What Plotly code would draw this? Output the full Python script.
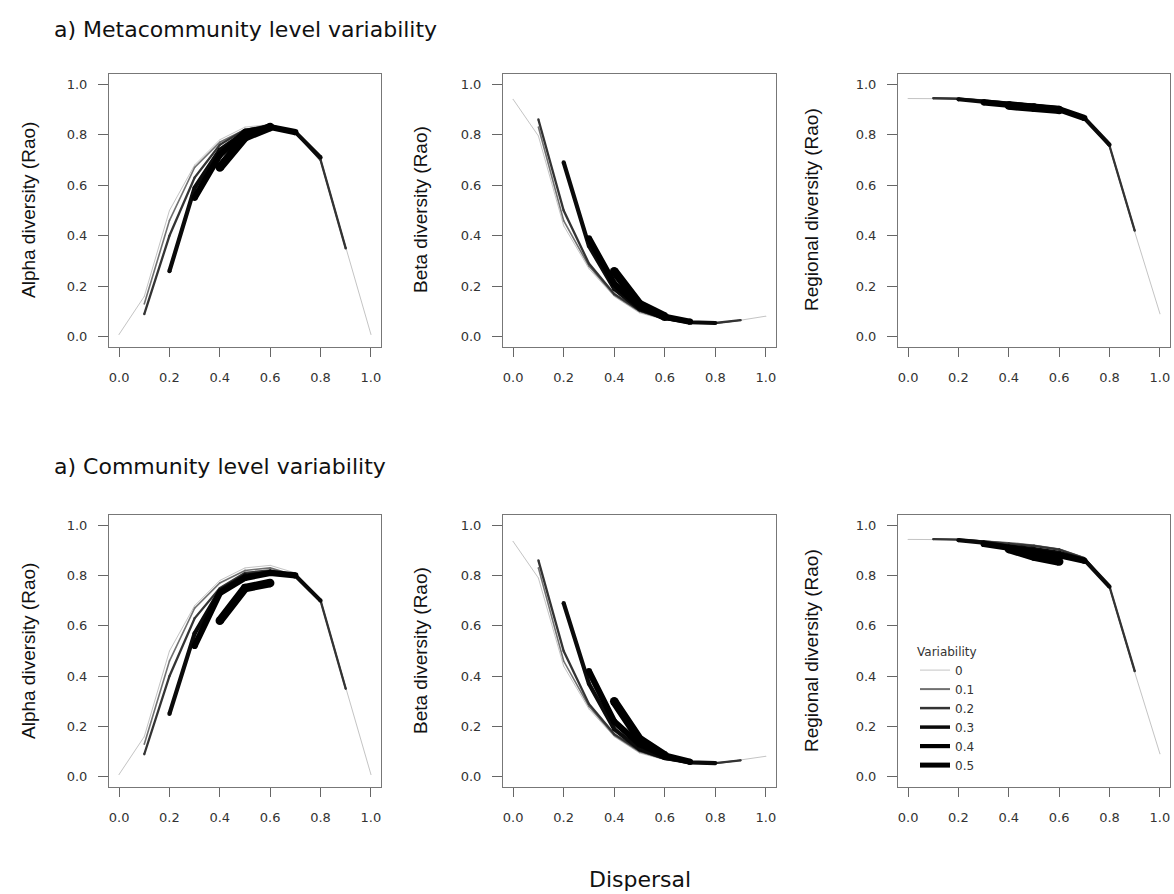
import plotly.graph_objects as go

# ---------------- data ----------------
dispersal = [0.0, 0.1, 0.2, 0.3, 0.4, 0.5, 0.6, 0.7, 0.8, 0.9, 1.0]
variability = ["0", "0.1", "0.2", "0.3", "0.4", "0.5"]
tick_vals = [0.0, 0.2, 0.4, 0.6, 0.8, 1.0]
tick_text = ["0.0", "0.2", "0.4", "0.6", "0.8", "1.0"]
N = None

alpha_meta = [
    [0.01, 0.16, 0.50, 0.68, 0.78, 0.83, 0.84, 0.81, 0.70, 0.35, 0.01],
    [N, 0.13, 0.46, 0.67, 0.77, 0.82, 0.84, 0.81, 0.70, 0.35, N],
    [N, 0.09, 0.40, 0.63, 0.76, 0.82, 0.83, 0.81, 0.70, 0.35, N],
    [N, N, 0.26, 0.59, 0.74, 0.81, 0.83, 0.81, 0.71, N, N],
    [N, N, N, 0.55, 0.72, 0.81, 0.83, 0.81, N, N, N],
    [N, N, N, N, 0.67, 0.79, 0.83, N, N, N, N],
]
beta_meta = [
    [0.94, 0.795, 0.44, 0.27, 0.16, 0.095, 0.068, 0.055, 0.053, 0.066, 0.082],
    [N, 0.83, 0.46, 0.28, 0.165, 0.10, 0.07, 0.056, 0.054, 0.066, N],
    [N, 0.86, 0.50, 0.29, 0.17, 0.105, 0.072, 0.057, 0.055, 0.066, N],
    [N, N, 0.69, 0.36, 0.19, 0.11, 0.075, 0.058, 0.055, N, N],
    [N, N, N, 0.39, 0.21, 0.12, 0.08, 0.06, N, N, N],
    [N, N, N, N, 0.26, 0.13, 0.08, N, N, N, N],
]
regional_meta = [
    [0.943, 0.943, 0.942, 0.937, 0.93, 0.92, 0.905, 0.87, 0.75, 0.415, 0.092],
    [N, 0.945, 0.943, 0.937, 0.93, 0.92, 0.905, 0.87, 0.755, 0.42, N],
    [N, 0.944, 0.942, 0.935, 0.927, 0.917, 0.903, 0.868, 0.755, 0.42, N],
    [N, N, 0.94, 0.93, 0.92, 0.912, 0.90, 0.866, 0.76, N, N],
    [N, N, N, 0.928, 0.917, 0.908, 0.90, 0.866, N, N, N],
    [N, N, N, N, 0.915, 0.907, 0.898, N, N, N, N],
]
alpha_comm = [
    [0.01, 0.16, 0.50, 0.68, 0.78, 0.83, 0.84, 0.81, 0.70, 0.35, 0.01],
    [N, 0.13, 0.46, 0.67, 0.77, 0.82, 0.83, 0.80, 0.70, 0.35, N],
    [N, 0.09, 0.40, 0.63, 0.75, 0.81, 0.82, 0.80, 0.70, 0.35, N],
    [N, N, 0.25, 0.57, 0.74, 0.80, 0.81, 0.80, 0.70, N, N],
    [N, N, N, 0.52, 0.73, 0.79, 0.81, 0.80, N, N, N],
    [N, N, N, N, 0.62, 0.75, 0.77, N, N, N, N],
]
beta_comm = [
    [0.935, 0.79, 0.44, 0.27, 0.16, 0.095, 0.068, 0.055, 0.053, 0.066, 0.082],
    [N, 0.83, 0.46, 0.28, 0.165, 0.10, 0.07, 0.056, 0.054, 0.066, N],
    [N, 0.86, 0.50, 0.29, 0.17, 0.105, 0.072, 0.057, 0.055, 0.066, N],
    [N, N, 0.69, 0.37, 0.19, 0.11, 0.075, 0.058, 0.055, N, N],
    [N, N, N, 0.42, 0.22, 0.13, 0.085, 0.06, N, N, N],
    [N, N, N, N, 0.30, 0.15, 0.085, N, N, N, N],
]
regional_comm = [
    [0.943, 0.943, 0.942, 0.937, 0.93, 0.92, 0.905, 0.87, 0.75, 0.415, 0.092],
    [N, 0.945, 0.943, 0.937, 0.93, 0.92, 0.905, 0.87, 0.755, 0.42, N],
    [N, 0.944, 0.942, 0.935, 0.927, 0.917, 0.903, 0.868, 0.755, 0.42, N],
    [N, N, 0.94, 0.93, 0.915, 0.905, 0.89, 0.862, 0.755, N, N],
    [N, N, N, 0.925, 0.91, 0.895, 0.88, 0.858, N, N, N],
    [N, N, N, N, 0.905, 0.875, 0.855, N, N, N, N],
]

panels = [alpha_meta, beta_meta, regional_meta, alpha_comm, beta_comm, regional_comm]
ylabels = ["Alpha diversity (Rao)", "Beta diversity (Rao)", "Regional diversity (Rao)"]
row_titles = ["a) Metacommunity level variability", "a) Community level variability"]
x_title = "Dispersal"
legend_title = "Variability"

# ---------------- styles ----------------
colors = ["#c4c4c4", "#707070", "#333333", "#0a0a0a", "#000000", "#000000"]
plot_widths = [1.0, 1.6, 2.3, 4.2, 6.2, 8.5]
legend_widths = [1.0, 2.0, 2.5, 3.5, 4.2, 5.0]
FONT_V = "Liberation Sans, Arial, sans-serif"   # rotated labels
FONT_H = "DejaVu Sans, Verdana, sans-serif"     # horizontal (wider) text
W, H = 1174, 894

x_dom = [(109 / W, 381 / W), (503 / W, 776 / W), (898 / W, 1170 / W)]
y_dom = [(1 - 347 / H, 1 - 74 / H), (1 - 787 / H, 1 - 515 / H)]

fig = go.Figure()

for p, data in enumerate(panels):
    ax = p + 1
    xa = "x" if ax == 1 else f"x{ax}"
    ya = "y" if ax == 1 else f"y{ax}"
    for i, ys in enumerate(data):
        fig.add_trace(go.Scatter(
            x=dispersal, y=ys, xaxis=xa, yaxis=ya,
            mode="lines+markers",
            line=dict(color=colors[i], width=plot_widths[i]),
            marker=dict(color=colors[i], size=plot_widths[i], line=dict(width=0)),
            connectgaps=False, showlegend=False, hoverinfo="skip",
        ))

# legend entries
for i, lab in enumerate(variability):
    fig.add_trace(go.Scatter(
        x=[None], y=[None], xaxis="x6", yaxis="y6", mode="lines",
        line=dict(color=colors[i], width=legend_widths[i]),
        name=lab, showlegend=True,
    ))

layout = dict(
    width=W, height=H,
    margin=dict(l=0, r=0, t=0, b=0),
    paper_bgcolor="white", plot_bgcolor="white",
    font=dict(family=FONT_H, color="#222"),
    showlegend=True,
    legend=dict(
        x=915 / W, y=1 - 640 / H, xanchor="left", yanchor="top",
        bgcolor="rgba(0,0,0,0)", borderwidth=0,
        title=dict(text=legend_title, font=dict(size=12, color="#333", family=FONT_H)),
        font=dict(size=12, color="#333", family=FONT_H),
        tracegroupgap=0,
    ),
)

annotations = []
for p in range(6):
    ax = p + 1
    r, c = divmod(p, 3)
    xk = "xaxis" if ax == 1 else f"xaxis{ax}"
    yk = "yaxis" if ax == 1 else f"yaxis{ax}"
    common = dict(
        showgrid=False, zeroline=False, showline=True, mirror=True,
        linecolor="#777", linewidth=1,
        ticks="outside", tickcolor="#666", tickwidth=1,
        tickvals=tick_vals, ticktext=tick_text,
        tickfont=dict(size=13, color="#333", family=FONT_H),
        range=[-0.04, 1.04], fixedrange=True,
    )
    layout[xk] = dict(common, domain=list(x_dom[c]), ticklen=9, ticklabelstandoff=9,
                      anchor=f"y{ax}" if ax > 1 else "y")
    layout[yk] = dict(common, domain=list(y_dom[r]), ticklen=10, ticklabelstandoff=8,
                      anchor=f"x{ax}" if ax > 1 else "x")
    ylab_x = [28, 420, 811][c]
    ylab_y = [210, 651][r]
    annotations.append(dict(
        text=ylabels[c], x=ylab_x / W, y=1 - ylab_y / H, xref="paper", yref="paper",
        xanchor="center", yanchor="middle", textangle=-90, showarrow=False,
        font=dict(size=19, color="#111", family=FONT_V),
    ))

for r, t in enumerate(row_titles):
    annotations.append(dict(
        text=t, x=52 / W, y=1 - [29, 466][r] / H, xref="paper", yref="paper",
        xanchor="left", yanchor="middle", showarrow=False,
        font=dict(size=22, color="#111", family=FONT_H),
    ))

annotations.append(dict(
    text=x_title, x=640 / W, y=1 - 879 / H, xref="paper", yref="paper",
    xanchor="center", yanchor="middle", showarrow=False,
    font=dict(size=22, color="#111", family=FONT_H),
))
layout["annotations"] = annotations

fig.update_layout(**layout)
fig.write_html("out.html")
